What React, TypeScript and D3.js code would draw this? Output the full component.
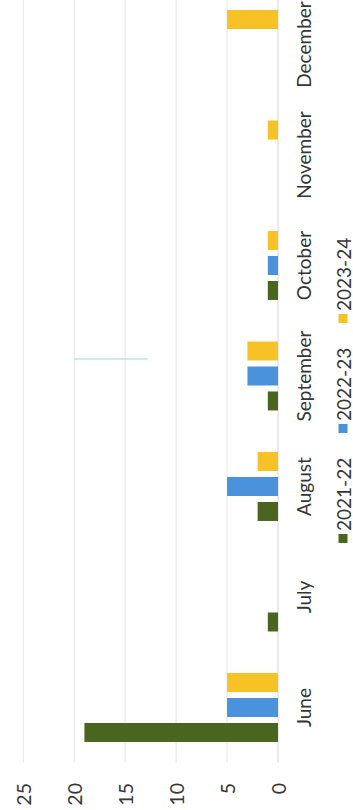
import React from 'react';
import * as d3 from 'd3';

// Monthly counts per season
const months = ['June', 'July', 'August', 'September', 'October', 'November', 'December'];
const seasons = ['2021-22', '2022-23', '2023-24'];
const season2122 = [19, 1, 2, 1, 1, 0, 0];
const season2223 = [5, 0, 5, 3, 1, 0, 0];
const season2324 = [5, 0, 2, 3, 1, 1, 5];
const valueTicks = [0, 5, 10, 15, 20, 25];

const seasonColors = ['#4a661e', '#4a92dc', '#f6c226'];

const PAGE_W = 353;
const PAGE_H = 810;

export default function App() {
  // The chart is built in a landscape frame (months along the long side)
  // and then turned a quarter turn counter-clockwise onto the page.
  const span = PAGE_H;
  const x0 = d3
    .scaleBand<string>()
    .domain(months)
    .range([47.25, 820.75])
    .paddingInner(0.376)
    .paddingOuter(0.188);
  const x1 = d3
    .scaleBand<string>()
    .domain(seasons)
    .range([0, x0.bandwidth()])
    .paddingInner(0.24);
  const y = d3.scaleLinear().domain([0, 25]).range([278, 23.3]);
  const legendX = d3.scalePoint<string>().domain(seasons).range([267, 487]);

  const series = [season2122, season2223, season2324];
  const textColor = '#363636';
  const font = 'Lato, "Open Sans", sans-serif';

  const strayU = (x0('September') ?? 0) + (x1('2023-24') ?? 0) + 1.5;

  return (
    <svg
      width={PAGE_W}
      height={PAGE_H}
      style={{ position: 'absolute', left: 0, top: 0, background: '#ffffff' }}
      fontFamily={font}
    >
      <rect width={PAGE_W} height={PAGE_H} fill="#ffffff" />
      <g transform={`translate(0,${PAGE_H}) rotate(-90)`}>
        {/* value gridlines */}
        {valueTicks.map((t) => (
          <line
            key={`g${t}`}
            x1={x0.range()[0]}
            x2={span + 20}
            y1={y(t)}
            y2={y(t)}
            stroke={t === 0 ? '#d6d6d6' : '#e6e6e6'}
            strokeWidth={1}
          />
        ))}

        {/* faint stray stroke across the grid */}
        <line
          x1={strayU}
          x2={strayU}
          y1={y(20)}
          y2={y(12.8)}
          stroke="#9cd5e6"
          strokeWidth={1}
        />

        {/* bars */}
        {series.map((vals, si) =>
          vals.map((v, mi) =>
            v > 0 ? (
              <rect
                key={`b${si}-${mi}`}
                x={(x0(months[mi]) ?? 0) + (x1(seasons[si]) ?? 0)}
                y={y(v)}
                width={x1.bandwidth()}
                height={y(0) - y(v)}
                fill={seasonColors[si]}
              />
            ) : null
          )
        )}

        {/* value tick labels */}
        {valueTicks.map((t) => (
          <text
            key={`t${t}`}
            x={27}
            y={y(t)}
            textAnchor="end"
            dominantBaseline="central"
            fontSize={19.5}
            fill={textColor}
          >
            {t}
          </text>
        ))}

        {/* month labels */}
        {months.map((m) => (
          <text
            key={`m${m}`}
            x={(x0(m) ?? 0) + x0.bandwidth() / 2}
            y={311}
            textAnchor="middle"
            fontSize={19}
            fill={textColor}
          >
            {m}
          </text>
        ))}

        {/* legend */}
        {seasons.map((s, i) => (
          <g key={`l${s}`} transform={`translate(${legendX(s)},343)`}>
            <rect x={0} y={-4.5} width={9} height={9} fill={seasonColors[i]} />
            <text x={12} y={0} dominantBaseline="central" fontSize={19} fill={textColor}>
              {s}
            </text>
          </g>
        ))}
      </g>
    </svg>
  );
}
